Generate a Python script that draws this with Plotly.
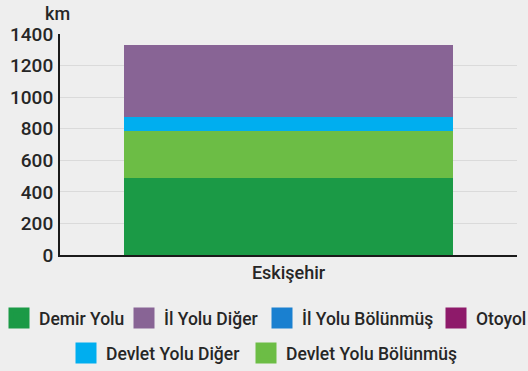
import plotly.graph_objects as go

# Road / rail network lengths for Eskişehir (km)
cities = ["Eskişehir"]
series_names = ["Demir Yolu", "Devlet Yolu Bölünmüş", "Devlet Yolu Diğer",
                "İl Yolu Bölünmüş", "Otoyol", "İl Yolu Diğer"]
demir_yolu = [490]
devlet_yolu_bolunmus = [297]
devlet_yolu_diger = [85]
il_yolu_bolunmus = [0]
otoyol = [0]
il_yolu_diger = [460]

y_ticks = [0, 200, 400, 600, 800, 1000, 1200, 1400]

colors = {
    "Demir Yolu": "#1b9a46",
    "İl Yolu Diğer": "#886495",
    "İl Yolu Bölünmüş": "#1a80d0",
    "Otoyol": "#8e1a6a",
    "Devlet Yolu Diğer": "#00aeef",
    "Devlet Yolu Bölünmüş": "#6cbd45",
}
values = {
    "Demir Yolu": demir_yolu,
    "Devlet Yolu Bölünmüş": devlet_yolu_bolunmus,
    "Devlet Yolu Diğer": devlet_yolu_diger,
    "İl Yolu Bölünmüş": il_yolu_bolunmus,
    "Otoyol": otoyol,
    "İl Yolu Diğer": il_yolu_diger,
}

FONT = "Roboto, Arial, sans-serif"
TXT = "#262626"
BG = "#eeeeee"

# plot area in pixels (used to place the legend entries)
W, H = 528, 371
M_L, M_R, M_T, M_B = 60, 11, 34, 116
PW, PH = W - M_L - M_R, H - M_T - M_B

fig = go.Figure()

# stacked bar segments, bottom to top
for name in series_names:
    fig.add_trace(go.Bar(
        x=cities, y=values[name], name=name,
        marker=dict(color=colors[name], line=dict(width=0)),
        width=0.72, showlegend=False,
    ))

# legend layout: each entry gets its own legend box (left edge px, row centre px)
legend_slots = [
    ("Demir Yolu", -1, 318),
    ("İl Yolu Diğer", 124, 318),
    ("İl Yolu Bölünmüş", 262, 318),
    ("Otoyol", 436, 318),
    ("Devlet Yolu Diğer", 66, 353),
    ("Devlet Yolu Bölünmüş", 246, 353),
]

legend_layouts = {}
for i, (name, left_px, mid_px) in enumerate(legend_slots):
    lid = "legend" if i == 0 else f"legend{i + 1}"
    fig.add_trace(go.Scatter(
        x=[None], y=[None], mode="markers", name=name, legend=lid,
        marker=dict(symbol="square", size=16, color=colors[name],
                    line=dict(color=colors[name], width=5)),
    ))
    legend_layouts[lid] = dict(
        orientation="h", xanchor="left", yanchor="middle",
        x=(left_px - M_L) / PW, y=(H - M_B - mid_px) / PH,
        bgcolor="rgba(0,0,0,0)", itemclick=False,
        font=dict(family=FONT, size=17.5, color=TXT, weight=500),
    )

fig.update_layout(
    width=W, height=H,
    margin=dict(l=M_L, r=M_R, t=M_T, b=M_B, autoexpand=False),
    paper_bgcolor=BG, plot_bgcolor=BG,
    barmode="stack",
    font=dict(family=FONT, size=18, color=TXT),
    xaxis=dict(
        type="category", range=[-0.5, 0.5],
        showline=True, linecolor="#1a1a1a", linewidth=2,
        showgrid=False, ticks="",
        tickfont=dict(family=FONT, size=18, color=TXT, weight=500),
    ),
    yaxis=dict(
        range=[0, 1400], tickvals=y_ticks,
        showline=True, linecolor="#1a1a1a", linewidth=2,
        showgrid=True, gridcolor="#dadada", gridwidth=1,
        zeroline=False, ticks="",
        tickfont=dict(family=FONT, size=19, color=TXT, weight=500),
        ticklabelstandoff=1,
    ),
    annotations=[dict(
        text="km", xref="paper", yref="paper", x=-0.006, y=1.095,
        xanchor="center", yanchor="middle", showarrow=False,
        font=dict(family=FONT, size=18, color=TXT, weight=500),
    )],
    **legend_layouts,
)

fig.write_html("out.html")
